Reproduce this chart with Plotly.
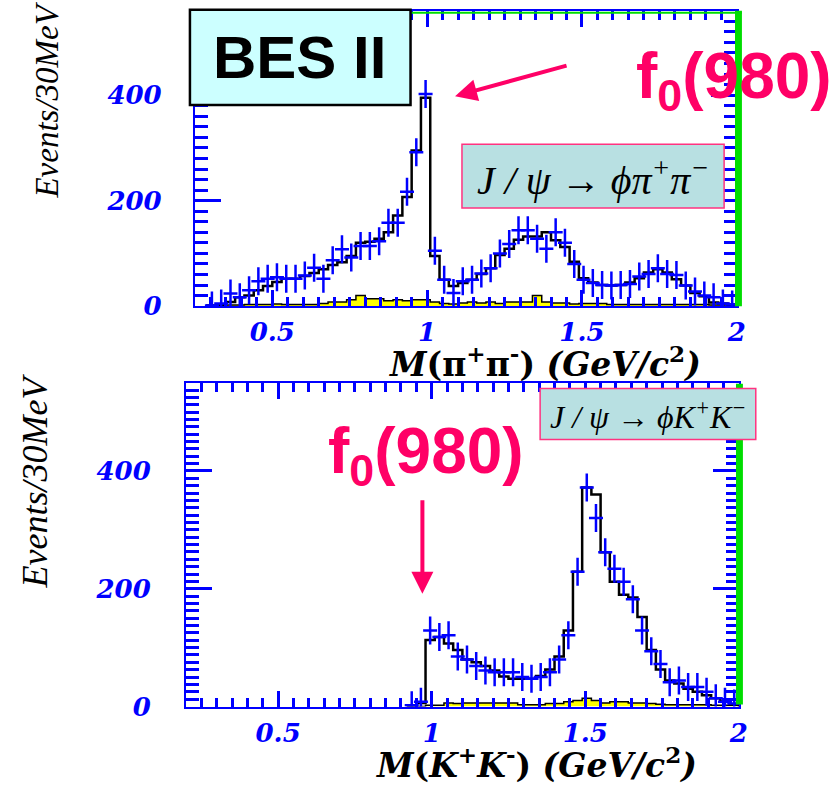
import numpy as np
import plotly.graph_objects as go

W, H = 836, 800

# ---------------- data ----------------
bin_width = 0.03  # GeV (30 MeV bins)

# upper panel: J/psi -> phi pi+ pi-, bins from 0.29 to 2.00 GeV
top_first_edge = 0.29
top_fit = [1, 3, 8, 17, 20, 30, 38, 46, 52, 52, 57, 63, 70, 78, 83, 95, 120, 122, 128, 140,
           172, 207, 295, 395,
           95, 50, 38, 44, 50, 61, 72, 97, 109, 126, 132, 132, 140, 125, 112, 84, 53, 45, 40, 39,
           40, 45, 53, 64, 70, 64, 51, 39, 25, 19, 7, 5, 3]
top_data = [1, 5, 24, 17, 30, 47, 52, 55, 52, 52, 58, 73, 52, 87, 108, 92, 114, 114, 123, 158,
            158, 217, 292, 402,
            105, 50, 25, 47, 50, 62, 72, 100, 118, 144, 144, 128, 109, 140, 120, 80, 50, 44, 40, 39,
            40, 42, 56, 61, 72, 61, 59, 39, 28, 20, 17, 5, 3]
top_bkg = [1, 1, 2, 2, 3, 3, 3, 4, 3, 3, 3, 3, 5, 8, 8, 12, 20, 14, 14, 10, 12, 10, 12, 12,
           8, 5, 4, 6, 8, 6, 8, 5, 8, 8, 8, 20, 8, 6, 6, 4, 5, 5, 5, 3, 3, 3, 3, 3, 3, 3,
           3, 3, 3, 3, 2, 2, 2]

# lower panel: J/psi -> phi K+ K-, bins from 0.92 to 2.00 GeV
bot_first_edge = 0.92
bot_fit = [2, 6, 113, 118, 107, 96, 80, 75, 69, 61, 51, 47, 47, 47, 52, 63, 85, 129, 229, 372,
           360, 262, 212, 190, 185, 152, 96, 63, 44, 39, 30, 25, 19, 14, 8, 4]
bot_data = [2, 8, 129, 118, 121, 85, 80, 69, 61, 58, 58, 58, 50, 47, 50, 58, 80, 121, 229, 372,
            320, 262, 234, 212, 182, 129, 94, 72, 41, 44, 33, 33, 25, 14, 8, 5]
bot_bkg = [0, 0, 2, 2, 6, 5, 6, 6, 6, 6, 6, 6, 3, 3, 3, 5, 5, 8, 10, 14,
           10, 6, 8, 8, 6, 6, 5, 4, 3, 3, 3, 3, 3, 2, 2, 2]

x_ticks = [0.5, 1, 1.5, 2]
x_ticklabels = ["0.5", "1", "1.5", "2"]
y_ticks = [0, 200, 400]
y_ticklabels = ["0", "200", "400"]

BLUE = "#0000ff"
PINK = "#ff0066"


def edges(first, n):
    return np.round(first + bin_width * np.arange(n + 1), 4)


def centers(first, n):
    e = edges(first, n)
    return (e[:-1] + e[1:]) / 2


def step_xy(first, vals):
    e = edges(first, len(vals))
    x = [e[0]] + list(e[:-1]) + [e[-1]]
    y = [0] + list(vals) + [0]
    return x, y


def px(p):
    return p / W


def py(p):
    return 1 - p / H


fig = go.Figure()


def add_panel(first, fit, data, bkg, xa, ya):
    bx, by = step_xy(first, bkg)
    fig.add_trace(go.Scatter(x=bx, y=by, mode="lines", line=dict(shape="hv", color="black", width=1.5),
                             fill="tozeroy", fillcolor="#ffff00", xaxis=xa, yaxis=ya, hoverinfo="skip"))
    fx, fy = step_xy(first, fit)
    fig.add_trace(go.Scatter(x=fx, y=fy, mode="lines", line=dict(shape="hv", color="black", width=2.5),
                             xaxis=xa, yaxis=ya, hoverinfo="skip"))
    c = centers(first, len(data))
    fig.add_trace(go.Scatter(x=c, y=data, mode="markers",
                             marker=dict(symbol="line-ns", size=20, line=dict(color=BLUE, width=2.5)),
                             xaxis=xa, yaxis=ya))
    fig.add_trace(go.Scatter(x=c, y=data, mode="markers",
                             marker=dict(symbol="line-ew", size=10, line=dict(color=BLUE, width=2.5)),
                             xaxis=xa, yaxis=ya))


add_panel(top_first_edge, top_fit, top_data, top_bkg, "x", "y")
add_panel(bot_first_edge, bot_fit, bot_data, bot_bkg, "x2", "y2")

tickfont = dict(family="DejaVu Serif", size=26, color=BLUE, weight="bold", style="italic")


def xaxis(domain, rng, anchor):
    return dict(domain=domain, range=rng, anchor=anchor, showgrid=False, zeroline=False,
                showline=True, linecolor=BLUE, linewidth=2, mirror="allticks",
                ticks="inside", ticklen=16, tickwidth=2.5, tickcolor=BLUE,
                tickmode="array", tickvals=x_ticks, ticktext=x_ticklabels, tickfont=tickfont,
                minor=dict(ticks="inside", ticklen=9, tickwidth=2.5, tickcolor=BLUE,
                           tickmode="array", tickvals=list(np.round(np.arange(0.2, 2.0001, 0.05), 3))),
                ticklabelstandoff=2)


def yaxis(domain, rng, anchor, minor_dtick, standoff):
    return dict(domain=domain, range=rng, anchor=anchor, showgrid=False, zeroline=False,
                showline=True, linecolor=BLUE, linewidth=2, mirror="allticks",
                ticks="inside", ticklen=26, tickwidth=2.5, tickcolor=BLUE,
                tickmode="array", tickvals=y_ticks, ticktext=y_ticklabels, tickfont=tickfont,
                minor=dict(ticks="inside", ticklen=13, tickwidth=2.5, tickcolor=BLUE,
                           tickmode="array", tickvals=list(np.arange(0, rng[1], minor_dtick))),
                ticklabelstandoff=standoff)


fig.update_layout(
    width=W, height=H, margin=dict(l=0, r=0, t=0, b=0),
    paper_bgcolor="white", plot_bgcolor="white", showlegend=False,
    xaxis=xaxis([px(197), px(745)], [0.25, 2.0005], "y"),
    yaxis=yaxis([py(312), py(11)], [0, 560], "x", 20, 26),
    xaxis2=xaxis([px(188), px(747)], [0.2, 2.0005], "y2"),
    yaxis2=yaxis([py(720), py(390)], [0, 550], "x2", 12.5, 28),
)

shapes = []
# green right bars
shapes.append(dict(type="rect", xref="paper", yref="paper", x0=px(743), x1=px(750), y0=py(312), y1=py(11),
                   fillcolor="#00dd00", line=dict(width=0), layer="above"))
shapes.append(dict(type="line", xref="paper", yref="paper", x0=px(414), x1=px(750), y0=py(13), y1=py(13),
                   line=dict(color="#00dd00", width=2), layer="above"))
shapes.append(dict(type="rect", xref="paper", yref="paper", x0=px(744), x1=px(751), y0=py(718), y1=py(391),
                   fillcolor="#00dd00", line=dict(width=0), layer="above"))
# BES II box
shapes.append(dict(type="rect", xref="paper", yref="paper", x0=px(192), x1=px(415), y0=py(107), y1=py(10),
                   fillcolor="#ccffff", line=dict(color="black", width=2.5), layer="above"))
# process boxes
shapes.append(dict(type="rect", xref="paper", yref="paper", x0=px(467), x1=px(732), y0=py(212), y1=py(147),
                   fillcolor="#b8e0e2", line=dict(color="#ff3380", width=1.5), layer="above"))
shapes.append(dict(type="rect", xref="paper", yref="paper", x0=px(546), x1=px(764), y0=py(448), y1=py(396),
                   fillcolor="#b8e0e2", line=dict(color="#ff3380", width=1.5), layer="above"))
fig.update_layout(shapes=shapes)

ann = []
ann.append(dict(text="<b>BES II</b>", xref="paper", yref="paper", x=px(303), y=py(59),
                xanchor="center", yanchor="middle", showarrow=False,
                font=dict(family="Liberation Sans", size=60, color="black")))
ann.append(dict(text="<b>f<sub>0</sub>(980)</b>", xref="paper", yref="paper", x=px(641), y=py(82),
                xanchor="left", yanchor="middle", showarrow=False,
                font=dict(family="Liberation Sans", size=64, color=PINK)))
ann.append(dict(text="<b>f<sub>0</sub>(980)</b>", xref="paper", yref="paper", x=px(330), y=py(464),
                xanchor="left", yanchor="middle", showarrow=False,
                font=dict(family="Liberation Sans", size=64, color=PINK)))
# arrows
ann.append(dict(text="", xref="paper", yref="paper", x=px(460), y=py(98), ax=113, ay=-31,
                showarrow=True, arrowhead=2, arrowsize=1.1, arrowwidth=4, arrowcolor=PINK))
ann.append(dict(text="", xref="paper", yref="paper", x=px(427), y=py(605), ax=0, ay=-95,
                showarrow=True, arrowhead=2, arrowsize=1.1, arrowwidth=4, arrowcolor=PINK))
# process labels
ann.append(dict(text="J / ψ → ϕπ<sup>+</sup>π<sup>−</sup>", xref="paper", yref="paper", x=px(599), y=py(181),
                xanchor="center", yanchor="middle", showarrow=False,
                font=dict(family="Liberation Serif", size=40, color="black", style="italic")))
ann.append(dict(text="J / ψ → ϕK<sup>+</sup>K<sup>−</sup>", xref="paper", yref="paper", x=px(655), y=py(423),
                xanchor="center", yanchor="middle", showarrow=False,
                font=dict(family="Liberation Serif", size=32, color="black", style="italic")))
# axis titles
xt_font = dict(family="DejaVu Serif", size=33, color="black", weight="bold")
ann.append(dict(text="<i>M</i>(π<sup>+</sup>π<sup>-</sup>) <i>(GeV/c</i><sup>2</sup><i>)</i>",
                xref="paper", yref="paper", x=px(551), y=py(369), xanchor="center", yanchor="middle",
                showarrow=False, font=xt_font))
ann.append(dict(text="<i>M</i>(<i>K</i><sup>+</sup><i>K</i><sup>-</sup>) <i>(GeV/c</i><sup>2</sup><i>)</i>",
                xref="paper", yref="paper", x=px(542), y=py(778), xanchor="center", yanchor="middle",
                showarrow=False, font=xt_font))
ann.append(dict(text="Events/30MeV", xref="paper", yref="paper", x=px(48), y=py(102), textangle=-90,
                xanchor="center", yanchor="middle", showarrow=False,
                font=dict(family="Liberation Serif", size=33, color="black", style="italic")))
ann.append(dict(text="Events/30MeV", xref="paper", yref="paper", x=px(35), y=py(490), textangle=-90,
                xanchor="center", yanchor="middle", showarrow=False,
                font=dict(family="Liberation Serif", size=36, color="black", style="italic")))
fig.update_layout(annotations=ann)

fig.write_html("out.html")
